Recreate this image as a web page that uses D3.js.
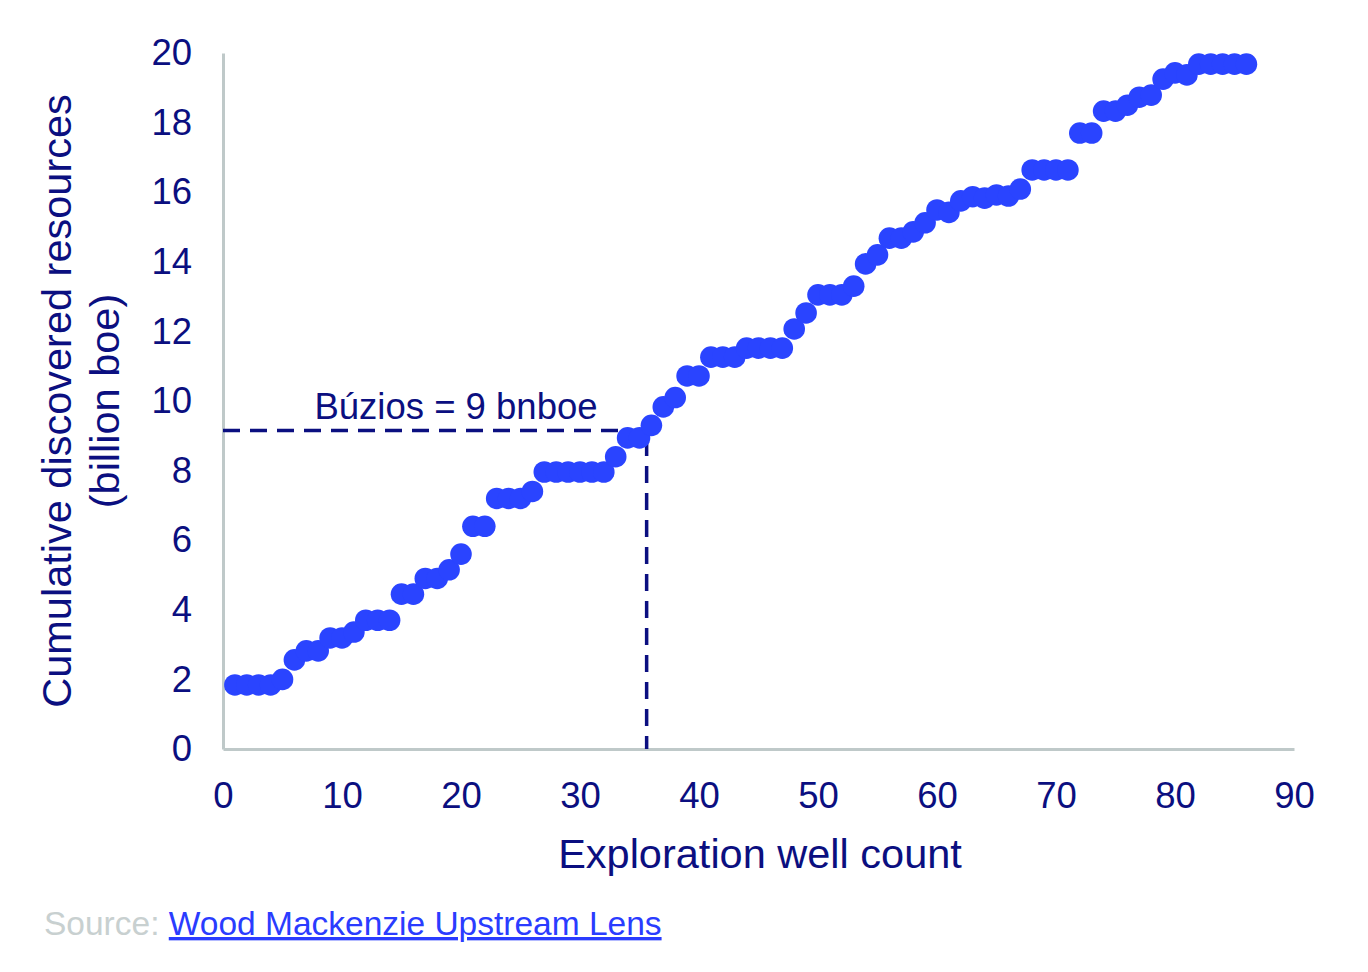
<!DOCTYPE html>
<html>
<head>
<meta charset="utf-8">
<script src="https://cdn.jsdelivr.net/npm/d3@7"></script>
<style>
  html, body { margin: 0; padding: 0; background: #ffffff; }
  svg { display: block; }
</style>
</head>
<body>
<svg id="chart" width="1368" height="972"></svg>
<script>
// Cumulative discovered resources (billion boe) per exploration well (1..86)
const cumulative = [
  1.84, 1.84, 1.84, 1.84, 2.0, 2.56, 2.82, 2.82, 3.19, 3.19,
  3.36, 3.7, 3.7, 3.7, 4.45, 4.45, 4.9, 4.9, 5.15, 5.6,
  6.4, 6.4, 7.2, 7.2, 7.2, 7.4, 7.96, 7.96, 7.96, 7.96,
  7.96, 7.96, 8.4, 8.94, 8.94, 9.3, 9.83, 10.1, 10.72, 10.72,
  11.26, 11.26, 11.26, 11.52, 11.52, 11.52, 11.52, 12.07, 12.53, 13.05,
  13.05, 13.05, 13.3, 13.94, 14.2, 14.68, 14.68, 14.86, 15.12, 15.49,
  15.42, 15.75, 15.87, 15.83, 15.92, 15.89, 16.09, 16.64, 16.64, 16.64,
  16.64, 17.7, 17.7, 18.33, 18.33, 18.5, 18.73, 18.79, 19.25, 19.43,
  19.37, 19.68, 19.68, 19.68, 19.68, 19.68
];
const wellCount = cumulative.map((d, i) => i + 1);
const xTicks = [0, 10, 20, 30, 40, 50, 60, 70, 80, 90];
const yTicks = [0, 2, 4, 6, 8, 10, 12, 14, 16, 18, 20];
const buziosWell = [35.6];
const buziosValue = [9.15];
const buziosLabel = ["Búzios = 9 bnboe"];
const xTitle = "Exploration well count";
const yTitleLines = ["Cumulative discovered resources", "(billion boe)"];

(function () {
const navy = "#0b0f80";
const dotColor = "#2a44ff";
const axisGrey = "#bfc9c9";
const font = "'Liberation Sans', Arial, sans-serif";

const svg = d3.select("#chart");
const mLeft = 223, mRight = 1294, mTop = 53, mBottom = 749;

const x = d3.scaleLinear().domain([0, 90]).range([mLeft, mRight]);
const y = d3.scaleLinear().domain([0, 20]).range([mBottom, mTop]);

// Axes
const xAxis = svg.append("g")
  .attr("transform", `translate(0,${mBottom})`)
  .call(d3.axisBottom(x).tickValues(xTicks).tickSize(0).tickPadding(33));
xAxis.select(".domain").attr("stroke", axisGrey).attr("stroke-width", 3);
xAxis.selectAll("text")
  .attr("fill", navy).attr("font-family", font).attr("font-size", 36.5);

const yAxis = svg.append("g")
  .attr("transform", `translate(${mLeft},0)`)
  .call(d3.axisLeft(y).tickValues(yTicks).tickSize(0).tickPadding(31));
yAxis.select(".domain").attr("stroke", axisGrey).attr("stroke-width", 3);
yAxis.selectAll("text")
  .attr("fill", navy).attr("font-family", font).attr("font-size", 36.5);

// Búzios dashed reference lines
svg.append("path")
  .attr("d", `M${x(0)},${y(buziosValue[0])} H${x(buziosWell[0])} V${y(0)}`)
  .attr("fill", "none")
  .attr("stroke", navy)
  .attr("stroke-width", 3.5)
  .attr("stroke-dasharray", "17,10");

// Dots
svg.append("g")
  .selectAll("circle")
  .data(cumulative)
  .join("circle")
  .attr("cx", (d, i) => x(wellCount[i]))
  .attr("cy", d => y(d))
  .attr("r", 10.8)
  .attr("fill", dotColor);

// Annotation label
svg.append("text")
  .attr("x", 456)
  .attr("y", 419)
  .attr("text-anchor", "middle")
  .attr("font-family", font)
  .attr("font-size", 36.5)
  .attr("fill", navy)
  .text(buziosLabel[0]);

// X title
svg.append("text")
  .attr("x", 760)
  .attr("y", 868)
  .attr("text-anchor", "middle")
  .attr("font-family", font)
  .attr("font-size", 41.5)
  .attr("fill", navy)
  .text(xTitle);

// Y title (two lines, rotated)
const yt = svg.append("text")
  .attr("transform", `translate(71,${(mTop + mBottom) / 2}) rotate(-90)`)
  .attr("text-anchor", "middle")
  .attr("font-family", font)
  .attr("font-size", 41.5)
  .attr("fill", navy);
yt.selectAll("tspan")
  .data(yTitleLines)
  .join("tspan")
  .attr("x", 0)
  .attr("dy", (d, i) => i === 0 ? 0 : 48)
  .text(d => d);

// Source
const src = svg.append("text")
  .attr("x", 44)
  .attr("y", 935)
  .attr("font-family", font)
  .attr("font-size", 33.5);
src.append("tspan").attr("fill", "#c8d0d0").text("Source: ");
src.append("tspan").attr("fill", "#2a3cff").attr("text-decoration", "underline").text("Wood Mackenzie Upstream Lens");
})();
</script>
</body>
</html>
